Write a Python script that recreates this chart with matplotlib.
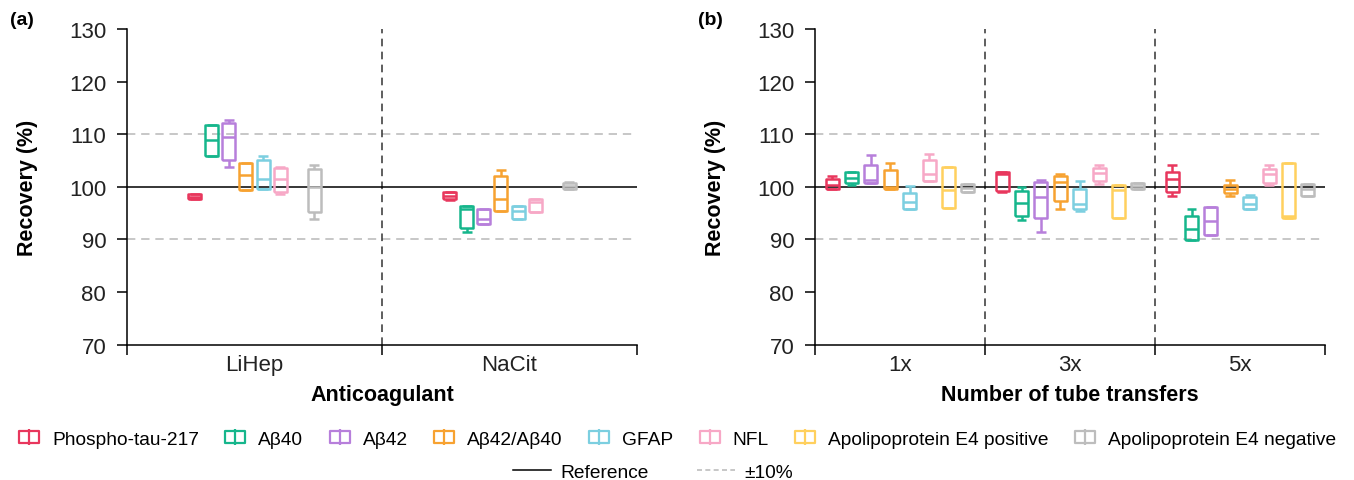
import matplotlib
matplotlib.use('Agg')
import matplotlib.pyplot as plt
from matplotlib.lines import Line2D
from matplotlib.path import Path

plt.rcParams['font.family'] = ['Liberation Sans', 'DejaVu Sans']

analytes = ['Phospho-tau-217', 'Aβ40', 'Aβ42', 'Aβ42/Aβ40', 'GFAP', 'NFL',
            'Apolipoprotein E4 positive', 'Apolipoprotein E4 negative']
colors = ['#E8375D', '#16B68C', '#B77FDB', '#F7A231', '#7CCFE0', '#F7A8C6',
          '#FFD05E', '#BDBDBD']

# (a) anticoagulant, each entry: [whislo, q1, median, q3, whishi]
cats_a = ['LiHep', 'NaCit']
ptau_a = [[97.7, 97.7, 98.1, 98.6, 98.6], [97.4, 97.7, 98.3, 99.0, 99.0]]
ab40_a = [[105.8, 105.9, 108.9, 111.8, 111.8], [91.3, 92.1, 95.8, 96.3, 96.3]]
ab42_a = [[103.8, 105.1, 109.5, 112.1, 112.6], [93.0, 93.0, 93.8, 95.8, 95.8]]
ratio_a = [[99.3, 99.3, 102.3, 104.6, 104.6], [95.4, 95.4, 97.7, 102.1, 103.2]]
gfap_a = [[99.6, 99.6, 101.5, 105.0, 105.8], [93.8, 93.8, 95.3, 96.4, 96.4]]
nfl_a = [[98.6, 99.0, 101.5, 103.5, 103.8], [95.2, 95.2, 97.1, 97.7, 97.7]]
apoe_pos_a = [None, None]
apoe_neg_a = [[93.8, 95.2, 99.9, 103.3, 104.1], [99.5, 99.6, 100.2, 100.8, 100.9]]

# (b) number of tube transfers
cats_b = ['1x', '3x', '5x']
ptau_b = [[99.5, 99.5, 100.4, 101.5, 102.0], [99.0, 99.1, 102.4, 102.8, 102.8],
          [98.2, 99.0, 101.5, 102.9, 104.2]]
ab40_b = [[100.3, 100.7, 101.7, 102.8, 102.8], [93.6, 94.4, 97.0, 99.2, 99.9],
          [89.9, 89.9, 91.9, 94.5, 95.8]]
ab42_b = [[100.7, 100.7, 101.2, 104.2, 106.0], [91.3, 94.0, 98.0, 100.9, 101.3],
          [90.9, 90.9, 93.4, 96.1, 96.1]]
ratio_b = [[99.6, 99.6, 99.9, 103.2, 104.6], [95.7, 97.2, 100.9, 102.0, 102.5],
           [98.2, 98.8, 99.5, 100.4, 101.3]]
gfap_b = [[95.7, 95.7, 97.1, 98.9, 100.1], [95.3, 95.7, 96.7, 99.6, 101.0],
          [95.7, 95.7, 96.7, 98.0, 98.5]]
nfl_b = [[101.1, 101.1, 102.5, 105.0, 106.3], [100.6, 101.0, 102.6, 103.6, 104.2],
         [100.4, 100.7, 102.5, 103.4, 104.2]]
apoe_pos_b = [[96.0, 96.0, 99.3, 103.7, 103.7], [94.1, 94.1, 99.3, 100.3, 100.3],
              [94.1, 94.1, 94.5, 104.5, 104.5]]
apoe_neg_b = [[99.0, 99.0, 99.8, 100.5, 100.5], [99.6, 99.6, 100.1, 100.7, 100.7],
              [98.3, 98.3, 99.5, 100.5, 100.5]]

series_a = [ptau_a, ab40_a, ab42_a, ratio_a, gfap_a, nfl_a, apoe_pos_a, apoe_neg_a]
series_b = [ptau_b, ab40_b, ab42_b, ratio_b, gfap_b, nfl_b, apoe_pos_b, apoe_neg_b]


def draw_panel(ax, cats, series, step, width, xlabel, tag):
    n = len(cats)
    for k, (data, c) in enumerate(zip(series, colors)):
        stats, pos = [], []
        for i, s in enumerate(data):
            if s is None:
                continue
            stats.append(dict(whislo=s[0], q1=s[1], med=s[2], q3=s[3], whishi=s[4], fliers=[]))
            pos.append(i + (k - 3.5) * step)
        if not stats:
            continue
        lp = dict(color=c, linewidth=1.8, solid_capstyle='butt')
        ax.bxp(stats, positions=pos, widths=width, capwidths=width * 0.75,
               showfliers=False, boxprops=lp, medianprops=lp,
               whiskerprops=lp, capprops=lp, manage_ticks=False, zorder=3)

    ax.axhline(100, color='black', lw=1.1, zorder=2)
    for v in (90, 110):
        ax.axhline(v, color='#BDBDBD', lw=1.2, dashes=(5, 3.5), zorder=1)
    for b in range(n - 1):
        ax.axvline(b + 0.5, color='#333333', lw=1.1, dashes=(5, 3.5), zorder=1)

    ax.set_xlim(-0.5, n - 0.5)
    ax.set_ylim(70, 130)
    ax.set_yticks(range(70, 131, 10))
    ax.set_xticks([b - 0.5 for b in range(n + 1)])
    ax.set_xticklabels([])
    ax.set_xticks(range(n), minor=True)
    ax.set_xticklabels(cats, minor=True)
    ax.tick_params(axis='x', which='minor', length=0, pad=7, labelsize=16, labelcolor='#222222')
    ax.tick_params(axis='x', which='major', length=7, width=1.1)
    ax.tick_params(axis='y', length=7, width=1.1, pad=8, labelsize=16, labelcolor='#222222')
    for sp in ('top', 'right'):
        ax.spines[sp].set_visible(False)
    for sp in ('left', 'bottom'):
        ax.spines[sp].set_linewidth(1.1)
    ax.set_ylabel('Recovery (%)', fontsize=15.5, fontweight='bold')
    ax.yaxis.set_label_coords(-0.175, 0.5)
    ax.set_xlabel(xlabel, fontsize=15.5, fontweight='bold', va='top')
    ax.xaxis.set_label_coords(0.5, -0.125)
    ax.text(-0.229, 1.03, tag, transform=ax.transAxes,
            fontsize=14, fontweight='bold', va='center', ha='left')


fig = plt.figure(figsize=(13.54, 4.81), dpi=100)
ax_a = fig.add_axes([127 / 1354, 1 - 345.5 / 481, 510 / 1354, 315.5 / 481])
ax_b = fig.add_axes([815 / 1354, 1 - 345.5 / 481, 510 / 1354, 315.5 / 481])

draw_panel(ax_a, cats_a, series_a, 0.0667, 0.051, 'Anticoagulant', '(a)')
draw_panel(ax_b, cats_b, series_b, 0.114, 0.076, 'Number of tube transfers', '(b)')

box_icon = Path([(-1, -0.55), (1, -0.55), (1, 0.55), (-1, 0.55), (-1, -0.55),
                 (0, -0.75), (0, 0.75)],
                [Path.MOVETO, Path.LINETO, Path.LINETO, Path.LINETO, Path.CLOSEPOLY,
                 Path.MOVETO, Path.LINETO])
handles = [Line2D([], [], color=c, marker=box_icon, linestyle='none', markersize=15,
                  markerfacecolor='none', markeredgewidth=1.6) for c in colors]
fig.legend(handles, analytes, loc='center', bbox_to_anchor=(0.5, 1 - 440 / 481),
           ncol=8, frameon=False, fontsize=13.8, handlelength=1.2, handletextpad=0.6,
           columnspacing=1.3)

ref_handles = [Line2D([], [], color='black', lw=1.1),
               Line2D([], [], color='#BDBDBD', lw=1.2, dashes=(3, 2))]
fig.legend(ref_handles, ['Reference', '±10%'], loc='center',
           bbox_to_anchor=(653 / 1354, 1 - 473 / 481), ncol=2, frameon=False,
           fontsize=13.8, handlelength=2.0, handletextpad=0.5, columnspacing=2.5)

fig.savefig('out.png', dpi=100)
